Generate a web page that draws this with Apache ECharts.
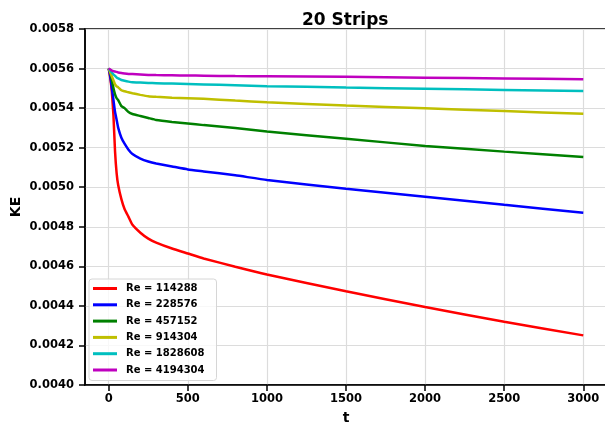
<!DOCTYPE html>
<html>
<head>
<meta charset="utf-8">
<script src="https://cdn.jsdelivr.net/npm/echarts@6/dist/echarts.min.js"></script>
<style>
  html, body { margin: 0; padding: 0; background: #fff; }
  #chart { width: 605px; height: 422px; }
</style>
</head>
<body>
<div id="chart"></div>
<script>
// time samples (t) shared by all runs
const times = [0, 10, 20, 30, 40, 50, 60, 80, 100, 125, 150, 200, 250, 300, 400, 500, 600, 800, 1000, 1500, 2000, 2500, 3000]

const re114288 = [0.00560, 0.00555, 0.00548, 0.00536, 0.00518, 0.00507, 0.00501, 0.00494, 0.00489, 0.00485, 0.00481, 0.00477, 0.00474, 0.00472, 0.00469, 0.004665, 0.00464, 0.004598, 0.004559, 0.004474, 0.004394, 0.00432, 0.004251]
const re228576 = [0.00560, 0.00556, 0.00550, 0.00544, 0.00538, 0.00534, 0.00530, 0.00525, 0.00522, 0.00519, 0.005168, 0.005145, 0.00513, 0.00512, 0.005105, 0.00509, 0.00508, 0.00506, 0.005037, 0.004992, 0.004952, 0.004911, 0.004871]
const re457152 = [0.00560, 0.00558, 0.00554, 0.00550, 0.00547, 0.00545, 0.00544, 0.00541, 0.00540, 0.00538, 0.00537, 0.00536, 0.00535, 0.00534, 0.00533, 0.005322, 0.005314, 0.0053, 0.005282, 0.005245, 0.005209, 0.00518, 0.005153]
const re914304 = [0.00560, 0.00558, 0.00556, 0.00554, 0.00552, 0.00551, 0.005505, 0.00549, 0.005485, 0.00548, 0.005475, 0.005467, 0.00546, 0.005457, 0.005453, 0.00545, 0.005447, 0.005438, 0.00543, 0.005413, 0.005399, 0.005385, 0.005371]
const re1828608 = [0.00560, 0.00559, 0.00558, 0.00557, 0.005563, 0.005555, 0.00555, 0.005542, 0.005538, 0.005534, 0.005531, 0.005529, 0.005527, 0.005526, 0.005524, 0.005522, 0.00552, 0.005516, 0.005511, 0.005504, 0.005498, 0.005492, 0.005486]
const re4194304 = [0.00560, 0.005595, 0.00559, 0.005587, 0.005585, 0.005583, 0.00558, 0.005577, 0.005575, 0.005573, 0.005572, 0.00557, 0.005568, 0.005567, 0.005566, 0.005565, 0.005564, 0.005562, 0.005561, 0.005558, 0.005554, 0.00555, 0.005546]

const xTicks = [0, 500, 1000, 1500, 2000, 2500, 3000]

const runs = [
  { name: 'Re = 114288', values: re114288, color: '#ff0000' },
  { name: 'Re = 228576', values: re228576, color: '#0000ff' },
  { name: 'Re = 457152', values: re457152, color: '#008000' },
  { name: 'Re = 914304', values: re914304, color: '#bfbf00' },
  { name: 'Re = 1828608', values: re1828608, color: '#00bfbf' },
  { name: 'Re = 4194304', values: re4194304, color: '#bf00bf' },
]

const font = 'DejaVu Sans'
const chart = echarts.init(document.getElementById('chart'), null, { renderer: 'canvas' })

chart.setOption({
  animation: false,
  backgroundColor: '#fff',
  title: {
    text: '20 Strips',
    left: 297,
    top: 7,
    textStyle: { fontFamily: font, fontSize: 17, fontWeight: 'bold', color: '#000' }
  },
  legend: {
    orient: 'vertical',
    left: 89,
    top: 279,
    padding: [3, 12, 4, 4],
    itemWidth: 24,
    itemHeight: 3,
    itemGap: 3.3,
    icon: 'rect',
    backgroundColor: 'rgba(255,255,255,0.8)',
    borderColor: '#d6d6d6',
    borderWidth: 1,
    borderRadius: 3,
    textStyle: { fontFamily: font, fontSize: 10, fontWeight: 'bold', color: '#000', lineHeight: 13, padding: [0, 0, 0, 4] }
  },
  grid: {
    left: 85, right: -2, top: 29, bottom: 37,
    outerBoundsMode: 'none',
    containLabel: false,
    show: true, borderColor: '#000', borderWidth: 1.5
  },
  xAxis: {
    type: 'value',
    min: -150,
    max: 3150,
    name: 't',
    nameLocation: 'middle',
    nameGap: 26,
    nameTextStyle: { fontFamily: font, fontSize: 14, fontWeight: 'bold', color: '#000' },
    axisLine: { show: true, onZero: false, lineStyle: { color: '#000', width: 1.5 } },
    axisTick: { show: true, length: 6, lineStyle: { color: '#000', width: 1.5 }, customValues: xTicks },
    axisLabel: {
      fontFamily: font, fontSize: 11.5, fontWeight: 'bold', color: '#000', margin: 8,
      customValues: xTicks, formatter: (v) => String(v)
    },
    splitLine: { show: true, lineStyle: { color: '#dcdcdc', width: 1.2 } }
  },
  yAxis: {
    type: 'value',
    min: 0.004,
    max: 0.0058,
    interval: 0.0002,
    name: 'KE',
    nameLocation: 'middle',
    nameGap: 62,
    nameMoveOverlap: false,
    nameTextStyle: { fontFamily: font, fontSize: 14, fontWeight: 'bold', color: '#000' },
    axisLine: { show: true, onZero: false, lineStyle: { color: '#000', width: 1.5 } },
    axisTick: { show: true, length: 6, lineStyle: { color: '#000', width: 1.5 } },
    axisLabel: {
      fontFamily: font, fontSize: 11.5, fontWeight: 'bold', color: '#000', margin: 11,
      formatter: (v) => v.toFixed(4)
    },
    splitLine: { show: true, lineStyle: { color: '#dcdcdc', width: 1.2 } }
  },
  series: runs.map((r) => ({
    name: r.name,
    type: 'line',
    smooth: 0.15,
    showSymbol: false,
    color: r.color,
    lineStyle: { width: 2.5, color: r.color },
    data: times.map((t, i) => [t, r.values[i]])
  }))
})
</script>
</body>
</html>
